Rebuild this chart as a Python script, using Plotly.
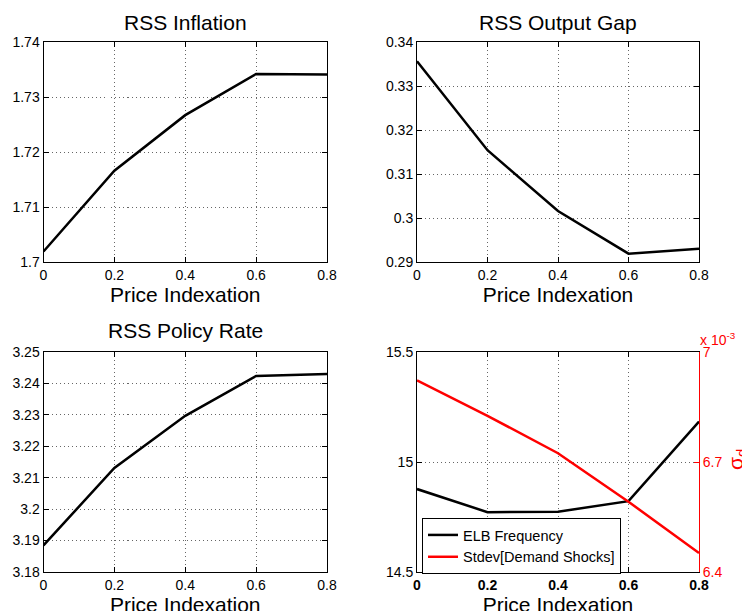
import plotly.graph_objects as go

price_indexation = [0, 0.2, 0.4, 0.6, 0.8]
rss_inflation = [1.7019, 1.7166, 1.7267, 1.7342, 1.7341]
rss_output_gap = [0.3356, 0.3154, 0.3016, 0.2919, 0.2930]
rss_policy_rate = [3.1885, 3.2131, 3.2297, 3.2424, 3.2430]
elb_frequency = [14.877, 14.772, 14.774, 14.822, 15.184]
stdev_demand_shocks = [0.0069225, 0.006826, 0.006724, 0.0065915, 0.006452]

x_ticks = [0, 0.2, 0.4, 0.6, 0.8]
x_ticklabels = ["0", "0.2", "0.4", "0.6", "0.8"]

FONT = "Liberation Sans, Arial, Helvetica, sans-serif"
W, H = 750, 611
OFF = 8  # page body margin offset

def px_x(p):
    return (p - OFF) / W

def px_y(p):
    return 1 - (p - OFF) / H

dom_left = [px_x(43.5), px_x(327)]
dom_right = [px_x(417), px_x(699)]
dom_top = [px_y(262), px_y(42)]
dom_bot = [px_y(572), px_y(352)]

fig = go.Figure()
line = dict(color="black", width=2.5)

fig.add_trace(go.Scatter(x=price_indexation, y=rss_inflation, mode="lines", line=line,
                         xaxis="x", yaxis="y", showlegend=False))
fig.add_trace(go.Scatter(x=price_indexation, y=rss_output_gap, mode="lines", line=line,
                         xaxis="x2", yaxis="y2", showlegend=False))
fig.add_trace(go.Scatter(x=price_indexation, y=rss_policy_rate, mode="lines", line=line,
                         xaxis="x3", yaxis="y3", showlegend=False))
fig.add_trace(go.Scatter(x=price_indexation, y=elb_frequency, mode="lines", line=line,
                         name="ELB Frequency", xaxis="x4", yaxis="y4"))
fig.add_trace(go.Scatter(x=price_indexation, y=stdev_demand_shocks, mode="lines",
                         line=dict(color="red", width=2.5),
                         name="Stdev[Demand Shocks]", xaxis="x4", yaxis="y5"))

grid = dict(showgrid=True, gridcolor="#666", griddash="1px,3px", gridwidth=1)
common = dict(showline=True, linecolor="black", linewidth=1, mirror="ticks",
              ticks="inside", ticklen=5, tickcolor="black", zeroline=False,
              automargin=False,
              tickfont=dict(family=FONT, size=14, color="black"), **grid)

def xax(dom, anchor, bold=False):
    d = dict(common)
    d.update(domain=dom, anchor=anchor, range=[0, 0.8], tickvals=x_ticks,
             ticktext=[f"<b>{t}</b>" if bold else t for t in x_ticklabels],
             title=dict(text="Price Indexation", font=dict(family=FONT, size=21, color="black"),
                        standoff=0))
    return d

def yax(dom, anchor, rng, tv):
    d = dict(common)
    d.update(domain=dom, anchor=anchor, range=rng, tickvals=tv)
    return d

layout = dict(
    width=W, height=H, margin=dict(l=0, r=0, t=0, b=0),
    paper_bgcolor="white", plot_bgcolor="white",
    font=dict(family=FONT, color="black"),
    xaxis=xax(dom_left, "y"),
    yaxis=yax(dom_top, "x", [1.70, 1.74], [1.70, 1.71, 1.72, 1.73, 1.74]),
    xaxis2=xax(dom_right, "y2"),
    yaxis2=yax(dom_top, "x2", [0.29, 0.34], [0.29, 0.30, 0.31, 0.32, 0.33, 0.34]),
    xaxis3=xax(dom_left, "y3"),
    yaxis3=yax(dom_bot, "x3", [3.18, 3.25], [3.18, 3.19, 3.20, 3.21, 3.22, 3.23, 3.24, 3.25]),
    xaxis4=xax(dom_right, "y4", bold=True),
    yaxis4=yax(dom_bot, "x4", [14.5, 15.5], [14.5, 15, 15.5]),
    yaxis5=dict(overlaying="y4", side="right", anchor="x4", range=[0.0064, 0.0070],
                tickvals=[0.0064, 0.0067, 0.0070], ticktext=["6.4", "6.7", "7"],
                showgrid=False, zeroline=False, showline=True, linecolor="red", linewidth=1,
                ticks="inside", ticklen=5, tickcolor="red", automargin=False,
                tickfont=dict(family=FONT, size=14, color="red")),
    legend=dict(x=px_x(422), y=px_y(518), xanchor="left", yanchor="top",
                bgcolor="white", bordercolor="black", borderwidth=1,
                font=dict(family=FONT, size=14.5, color="black"),
                tracegroupgap=0, itemwidth=30),
)
fig.update_layout(**layout)

titles = [("RSS Inflation", 185, 22), ("RSS Output Gap", 558, 22), ("RSS Policy Rate", 185, 330)]
ann = []
for t, cx, cy in titles:
    ann.append(dict(text=t, x=px_x(cx), y=px_y(cy), xref="paper", yref="paper",
                    showarrow=False, xanchor="center", yanchor="middle",
                    font=dict(family=FONT, size=21, color="black")))
ann.append(dict(text="x 10<sup>-3</sup>", x=px_x(698), y=px_y(339), xref="paper", yref="paper",
                showarrow=False, xanchor="left", yanchor="middle",
                font=dict(family=FONT, size=14, color="red")))
ann.append(dict(text="σ<sub>d</sub>", x=px_x(737), y=px_y(460), xref="paper", yref="paper",
                showarrow=False, xanchor="center", yanchor="middle", textangle=-90,
                font=dict(family=FONT, size=21, color="red")))
fig.update_layout(annotations=ann)

fig.write_html("out.html")
